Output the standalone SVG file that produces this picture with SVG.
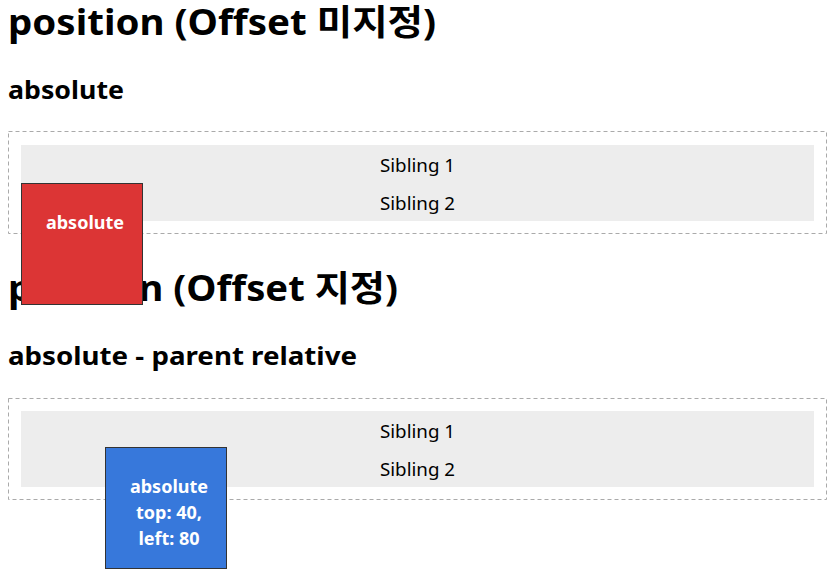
<svg xmlns="http://www.w3.org/2000/svg" width="836" height="587" viewBox="0 0 836 587">
<style>
text{font-family:"Noto Sans","Noto Sans CJK KR",sans-serif;font-variant-ligatures:none;}
.h1{font-size:35px;font-weight:bold;fill:#000;}
.h2{font-size:25px;font-weight:bold;fill:#000;}
.outer{fill:none;stroke:#aaa;stroke-width:1;stroke-dasharray:4 3;}
.gray{fill:#ededed;}
.sib{font-size:18px;fill:#000;text-anchor:middle;}
.box{stroke:#333;stroke-width:1;}
.lbl{font-size:18px;font-weight:bold;fill:#fff;text-anchor:middle;}
</style>
<g id="section1">
<text class="h1" x="8" y="35" textLength="428" lengthAdjust="spacingAndGlyphs">position (Offset 미지정)</text>
<text class="h2" x="8" y="99" textLength="116" lengthAdjust="spacingAndGlyphs">absolute</text>
<rect class="outer" x="8.5" y="131.5" width="818" height="102"/>
<rect class="gray" x="21" y="145" width="793" height="76"/>
<text class="sib" x="417.5" y="172" textLength="75" lengthAdjust="spacingAndGlyphs">Sibling 1</text>
<text class="sib" x="417.5" y="210" textLength="75" lengthAdjust="spacingAndGlyphs">Sibling 2</text>
</g>
<g id="section2">
<text class="h1" x="8" y="301" textLength="390" lengthAdjust="spacingAndGlyphs">position (Offset 지정)</text>
<text class="h2" x="8" y="365" textLength="349" lengthAdjust="spacingAndGlyphs">absolute - parent relative</text>
<rect class="outer" x="8.5" y="398.5" width="818" height="101"/>
<rect class="gray" x="21" y="411" width="793" height="76"/>
<text class="sib" x="417.5" y="438" textLength="75" lengthAdjust="spacingAndGlyphs">Sibling 1</text>
<text class="sib" x="417.5" y="476" textLength="75" lengthAdjust="spacingAndGlyphs">Sibling 2</text>
</g>
<g id="red-absolute">
<rect class="box" x="21.5" y="183.5" width="121" height="121" fill="#dc3535"/>
<text class="lbl" x="85" y="229">absolute</text>
</g>
<g id="blue-absolute">
<rect class="box" x="105.5" y="447.5" width="121" height="121" fill="#3778db"/>
<text class="lbl" x="169" y="493">absolute</text>
<text class="lbl" x="169" y="519">top: 40,</text>
<text class="lbl" x="169" y="545">left: 80</text>
</g>
</svg>
